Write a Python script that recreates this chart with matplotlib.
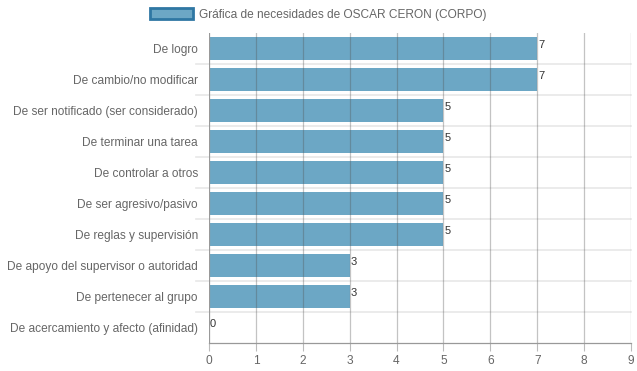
import numpy as np
import matplotlib
matplotlib.use("Agg")
import matplotlib.pyplot as plt
from matplotlib.patches import Patch

plt.rcParams['font.family'] = ['Liberation Sans', 'DejaVu Sans']

categorias = ['De logro', 'De cambio/no modificar', 'De ser notificado (ser considerado)',
              'De terminar una tarea', 'De controlar a otros', 'De ser agresivo/pasivo',
              'De reglas y supervisión', 'De apoyo del supervisor o autoridad',
              'De pertenecer al grupo', 'De acercamiento y afecto (afinidad)']
valores = [7, 7, 5, 5, 5, 5, 5, 3, 3, 0]
titulo = 'Gráfica de necesidades de OSCAR CERON (CORPO)'

fig = plt.figure(figsize=(6.37, 3.71), dpi=100)
ax = fig.add_axes([209/637, 1-343/371, 422/637, 310/371])

y = np.arange(len(categorias))
ax.barh(y, valores, height=0.72, color='#6ca7c5', zorder=1)

for yi, v in zip(y, valores):
    ax.text(v + 0.02, yi - 0.12, str(v), fontsize=8, color='#333333', ha='left', va='center', zorder=4)

ax.set_xlim(0, 9)
ax.set_ylim(len(categorias) - 0.5, -0.5)
ax.set_xticks(range(10))
ax.set_yticks(y)
ax.set_yticklabels(categorias)
ax.tick_params(axis='both', labelsize=8.6, colors='#666666', length=0, pad=8)
ax.tick_params(axis='x', length=6, color='#bbbbbb', width=0.8, pad=3)

# vertical gridlines over bars
for xv in range(1, 10):
    ax.axvline(xv, color='#555555', alpha=0.35, lw=0.9, zorder=3)
ax.axvline(0, color='#999999', lw=0.9, zorder=3)

# horizontal category separators
for b in np.arange(-0.5, len(categorias) - 0.5, 1.0)[1:]:
    ax.axhline(b, color='#e8e8e8', lw=1.2, zorder=0, xmin=-0.03, clip_on=False)

for s in ['top', 'right', 'left']:
    ax.spines[s].set_visible(False)
ax.spines['bottom'].set_color('#999999')
ax.spines['bottom'].set_linewidth(0.9)

handle = Patch(facecolor='#6ca7c5', edgecolor='#2f77a3', linewidth=2)
fig.legend([handle], [titulo], loc='upper center', bbox_to_anchor=(0.5, 1.0), frameon=False,
           fontsize=8.6, handlelength=3.6, handleheight=1.0, labelcolor='#666666', handletextpad=0.5,
           borderaxespad=0.3)

fig.savefig('out.png', dpi=100)
